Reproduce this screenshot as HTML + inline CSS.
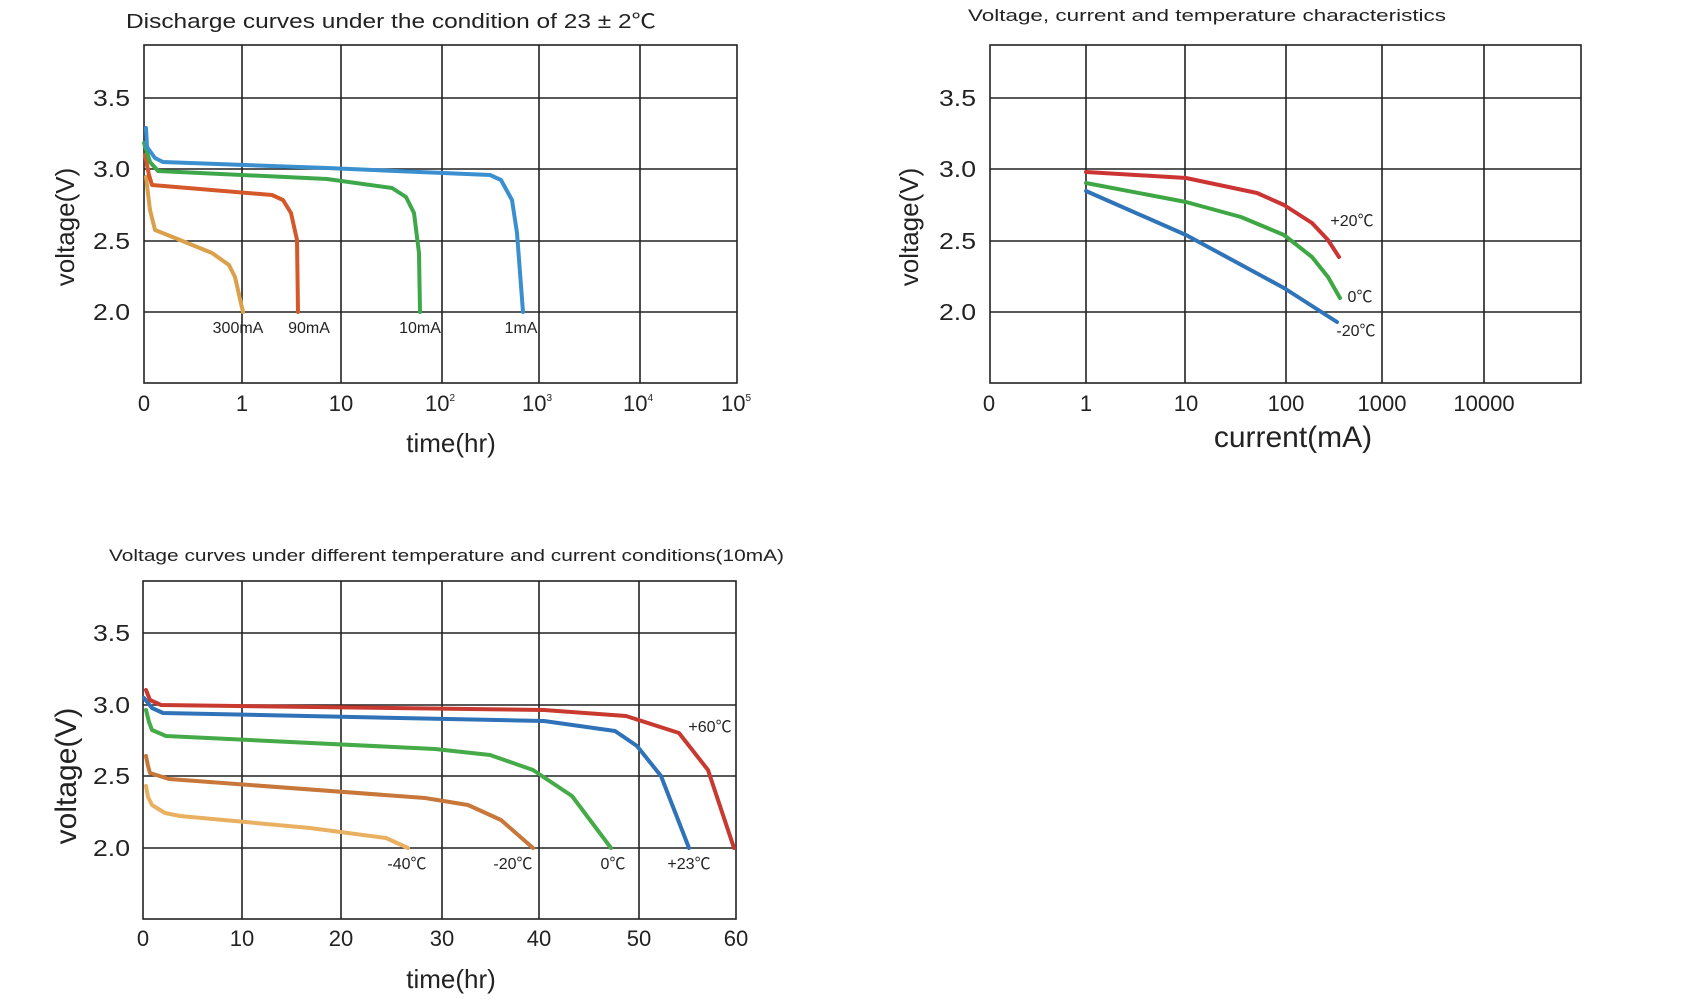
<!DOCTYPE html>
<html><head><meta charset="utf-8"><style>
html,body{margin:0;padding:0;background:#fff;}
svg{display:block;}
text{font-family:"Liberation Sans","Noto Sans CJK SC",sans-serif;fill:#222;}
.g{stroke:#222;stroke-width:1.6;fill:none;}
.c{fill:none;stroke-width:4;stroke-linejoin:round;stroke-linecap:round;}
.yl{font-size:23px;text-anchor:end;}
.xl{font-size:22px;text-anchor:middle;}
.an{font-size:16px;text-anchor:middle;}
</style></head><body>
<svg width="1698" height="1006" viewBox="0 0 1698 1006" xmlns="http://www.w3.org/2000/svg">
<!-- Chart 1 -->
<text x="126" y="28" font-size="20" textLength="530" lengthAdjust="spacingAndGlyphs">Discharge curves under the condition of 23 ± 2℃</text>
<rect x="144" y="45" width="593" height="338" class="g"/>
<path class="g" d="M242 45V383M341 45V383M442 45V383M539 45V383M640 45V383M144 98H737M144 169H737M144 241H737M144 312H737"/>
<text class="yl" x="130" y="106" textLength="37" lengthAdjust="spacingAndGlyphs">3.5</text><text class="yl" x="130" y="177" textLength="37" lengthAdjust="spacingAndGlyphs">3.0</text><text class="yl" x="130" y="249" textLength="37" lengthAdjust="spacingAndGlyphs">2.5</text><text class="yl" x="130" y="320" textLength="37" lengthAdjust="spacingAndGlyphs">2.0</text>
<text class="xl" x="144" y="411">0</text><text class="xl" x="242" y="411">1</text><text class="xl" x="341" y="411">10</text>
<text class="xl" x="440" y="411">10<tspan font-size="10" dy="-10">2</tspan></text>
<text class="xl" x="537" y="411">10<tspan font-size="10" dy="-10">3</tspan></text>
<text class="xl" x="638" y="411">10<tspan font-size="10" dy="-10">4</tspan></text>
<text class="xl" x="736" y="411">10<tspan font-size="10" dy="-10">5</tspan></text>
<text x="451" y="452" font-size="26" text-anchor="middle">time(hr)</text>
<text x="0" y="0" font-size="26" text-anchor="middle" transform="translate(74,227) rotate(-90)">voltage(V)</text>
<text class="an" x="238" y="333">300mA</text><text class="an" x="309" y="333">90mA</text><text class="an" x="420" y="333">10mA</text><text class="an" x="521" y="333">1mA</text>
<polyline class="c" stroke="#dba04a" points="146,177 150,210 155,230 180,240 212,253 229,265 235,277 243,312"/>
<polyline class="c" stroke="#d4582a" points="145,155 149,175 152,185 272,195 283,200 291,213 297,240 298,312"/>
<polyline class="c" stroke="#3ea74a" points="144,143 150,162 158,171 327,179 392,188 406,197 414,213 419,253 420,312"/>
<polyline class="c" stroke="#3a8fcf" points="146,128 147,147 155,158 163,162 327,168 490,175 501,180 512,200 517,233 523,312"/>
<!-- Chart 2 -->
<text x="968" y="21" font-size="17" textLength="478" lengthAdjust="spacingAndGlyphs">Voltage, current and temperature characteristics</text>
<rect x="990" y="45" width="591" height="338" class="g"/>
<path class="g" d="M1086 45V383M1185 45V383M1286 45V383M1382 45V383M1484 45V383M990 98H1581M990 169H1581M990 241H1581M990 312H1581"/>
<text class="yl" x="976" y="106" textLength="37" lengthAdjust="spacingAndGlyphs">3.5</text><text class="yl" x="976" y="177" textLength="37" lengthAdjust="spacingAndGlyphs">3.0</text><text class="yl" x="976" y="249" textLength="37" lengthAdjust="spacingAndGlyphs">2.5</text><text class="yl" x="976" y="320" textLength="37" lengthAdjust="spacingAndGlyphs">2.0</text>
<text class="xl" x="989" y="411">0</text><text class="xl" x="1086" y="411">1</text><text class="xl" x="1186" y="411">10</text><text class="xl" x="1286" y="411">100</text><text class="xl" x="1382" y="411">1000</text><text class="xl" x="1484" y="411">10000</text>
<text x="1293" y="447" font-size="30" text-anchor="middle">current(mA)</text>
<text x="0" y="0" font-size="26" text-anchor="middle" transform="translate(918,227) rotate(-90)">voltage(V)</text>
<polyline class="c" stroke="#cc3333" points="1086,172 1186,178 1257,193 1284,205 1312,223 1328,240 1339,257"/>
<polyline class="c" stroke="#3ea744" points="1086,183 1186,202 1241,217 1284,235 1312,257 1328,277 1340,298"/>
<polyline class="c" stroke="#2f74b8" points="1086,191 1186,235 1284,288 1337,322"/>
<text class="an" x="1352" y="226">+20℃</text><text class="an" x="1360" y="302">0℃</text><text class="an" x="1356" y="336">-20℃</text>
<!-- Chart 3 -->
<text x="109" y="561" font-size="17" textLength="675" lengthAdjust="spacingAndGlyphs">Voltage curves under different temperature and current conditions(10mA)</text>
<rect x="143" y="581" width="593" height="338" class="g"/>
<path class="g" d="M242 581V919M341 581V919M442 581V919M539 581V919M639 581V919M143 633H736M143 705H736M143 776H736M143 848H736"/>
<text class="yl" x="130" y="641" textLength="37" lengthAdjust="spacingAndGlyphs">3.5</text><text class="yl" x="130" y="713" textLength="37" lengthAdjust="spacingAndGlyphs">3.0</text><text class="yl" x="130" y="784" textLength="37" lengthAdjust="spacingAndGlyphs">2.5</text><text class="yl" x="130" y="856" textLength="37" lengthAdjust="spacingAndGlyphs">2.0</text>
<text class="xl" x="143" y="946">0</text><text class="xl" x="242" y="946">10</text><text class="xl" x="341" y="946">20</text><text class="xl" x="442" y="946">30</text><text class="xl" x="539" y="946">40</text><text class="xl" x="639" y="946">50</text><text class="xl" x="736" y="946">60</text>
<text x="451" y="988" font-size="26" text-anchor="middle">time(hr)</text>
<text x="0" y="0" font-size="30" text-anchor="middle" transform="translate(76,776) rotate(-90)">voltage(V)</text>
<polyline class="c" stroke="#e8b060" points="146,786 148,797 152,805 165,813 180,816 310,828 386,838 408,848"/>
<polyline class="c" stroke="#c8773a" points="146,756 148,766 150,773 169,779 425,798 468,805 501,820 533,848"/>
<polyline class="c" stroke="#45aa48" points="146,710 149,722 152,730 166,736 435,749 490,755 533,770 572,796 611,848"/>
<polyline class="c" stroke="#2f72b8" points="144,698 152,708 163,713 544,721 615,731 637,746 661,776 689,848"/>
<polyline class="c" stroke="#c83a30" points="146,690 150,700 161,705 544,710 626,716 679,733 708,770 734,848"/>
<text class="an" x="407" y="869">-40℃</text><text class="an" x="513" y="869">-20℃</text><text class="an" x="613" y="869">0℃</text><text class="an" x="689" y="869">+23℃</text><text class="an" x="710" y="732">+60℃</text>
</svg>
</body></html>
